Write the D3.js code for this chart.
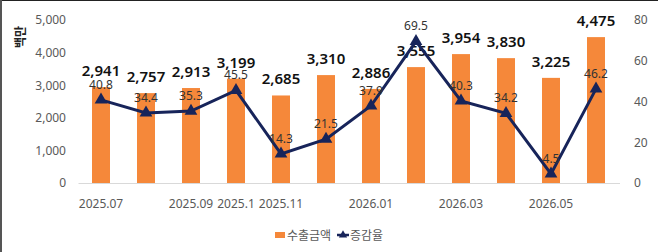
<!DOCTYPE html>
<html>
<head>
<meta charset="utf-8">
<script src="https://cdn.jsdelivr.net/npm/d3@7"></script>
<style>
  body { margin: 0; background: #fff; }
  text { font-family: "Noto Sans", "Noto Sans CJK KR", sans-serif; }
</style>
</head>
<body>
<script>
// chart data
var months = ['2025.07', '2025.08', '2025.09', '2025.10', '2025.11', '2025.12',
	'2026.01', '2026.02', '2026.03', '2026.04', '2026.05', '2026.06'];
var tickLabels = ['2025.07', '', '2025.09', '2025.1', '2025.11', '',
	'2026.01', '', '2026.03', '', '2026.05', ''];
var exports = [2941, 2757, 2913, 3199, 2685, 3310, 2886, 3555, 3954, 3830, 3225, 4475];
var rates = [40.8, 34.4, 35.3, 45.5, 14.3, 21.5, 37.9, 69.5, 40.3, 34.2, 4.5, 46.2];
var leftTicks = [0, 1000, 2000, 3000, 4000, 5000];
var rightTicks = [0, 20, 40, 60, 80];

var width = 658,
	height = 252;

var orange = '#f5883a',
	navy = '#17245a';

var svg = d3.select('body')
	.append('svg')
	.attr('width', width)
	.attr('height', height);

// frame edges
svg.append('rect').attr('x', 0).attr('y', 0).attr('width', width).attr('height', 1).attr('fill', '#222');
svg.append('rect').attr('x', 0).attr('y', 0).attr('width', 2).attr('height', height).attr('fill', '#555');

var x = d3.scaleBand()
	.domain(months)
	.range([78.5, 618.5])
	.paddingInner(0.6)
	.paddingOuter(0.3);

var y = d3.scaleLinear().domain([0, 5000]).range([183, 20]);
var y2 = d3.scaleLinear().domain([0, 80]).range([183, 20]);

// left axis
var yAxis = svg.append('g')
	.attr('transform', 'translate(70,0)')
	.call(d3.axisLeft(y).tickValues(leftTicks).tickFormat(d3.format(',')).tickSize(0).tickPadding(4));
yAxis.select('.domain').remove();
yAxis.selectAll('text').attr('fill', '#595959').style('font-size', '12px');

// right axis
var y2Axis = svg.append('g')
	.attr('transform', 'translate(630,0)')
	.call(d3.axisRight(y2).tickValues(rightTicks).tickSize(0).tickPadding(4));
y2Axis.select('.domain').remove();
y2Axis.selectAll('text').attr('fill', '#595959').style('font-size', '12px');

// unit label
svg.append('text')
	.attr('transform', 'translate(25,37) rotate(-90)')
	.attr('text-anchor', 'middle')
	.style('font-family', '"Noto Sans CJK KR"')
	.style('font-size', '12px')
	.style('font-weight', 'bold')
	.attr('fill', '#222')
	.text('백만');

// baseline
svg.append('line')
	.attr('x1', 78.5).attr('x2', 620)
	.attr('y1', 183.5).attr('y2', 183.5)
	.attr('stroke', '#d9d9d9');

// x labels
var xAxis = svg.append('g')
	.attr('transform', 'translate(0,183)')
	.call(d3.axisBottom(x).tickSize(0).tickPadding(16).tickFormat(function(d, i) { return tickLabels[i]; }));
xAxis.select('.domain').remove();
xAxis.selectAll('text').attr('fill', '#595959').style('font-size', '12px');

// bars
svg.selectAll('.bar')
	.data(exports)
	.enter().append('rect')
	.attr('class', 'bar')
	.attr('x', function(d, i) { return x(months[i]); })
	.attr('width', x.bandwidth())
	.attr('y', function(d) { return y(d); })
	.attr('height', function(d) { return y(0) - y(d); })
	.attr('fill', orange);

// bar labels
svg.selectAll('.blabel')
	.data(exports)
	.enter().append('text')
	.attr('class', 'blabel')
	.attr('x', function(d, i) { return x(months[i]) + x.bandwidth() / 2; })
	.attr('y', function(d) { return y(d) - 11; })
	.attr('text-anchor', 'middle')
	.style('font-size', '15px')
	.style('font-weight', '600')
	.attr('fill', '#111')
	.text(d3.format(','));

// rate line
var line = d3.line()
	.x(function(d, i) { return x(months[i]) + x.bandwidth() / 2; })
	.y(function(d) { return y2(d); });

svg.append('path')
	.datum(rates)
	.attr('d', line)
	.attr('fill', 'none')
	.attr('stroke', navy)
	.attr('stroke-width', 3);

var tri = d3.symbol().type(d3.symbolTriangle).size(70);

svg.selectAll('.marker')
	.data(rates)
	.enter().append('path')
	.attr('class', 'marker')
	.attr('d', tri)
	.attr('transform', function(d, i) {
		return 'translate(' + (x(months[i]) + x.bandwidth() / 2) + ',' + y2(d) + ')';
	})
	.attr('fill', navy);

svg.selectAll('.rlabel')
	.data(rates)
	.enter().append('text')
	.attr('class', 'rlabel')
	.attr('x', function(d, i) { return x(months[i]) + x.bandwidth() / 2; })
	.attr('y', function(d) { return y2(d) - 11; })
	.attr('text-anchor', 'middle')
	.style('font-size', '12px')
	.attr('fill', '#333')
	.text(function(d) { return d.toFixed(1); });

// legend
var legend = svg.append('g').attr('transform', 'translate(275,235)');
legend.append('rect').attr('x', 0).attr('y', -3).attr('width', 10).attr('height', 6).attr('fill', orange);
legend.append('text').attr('x', 12).attr('y', 4.5)
	.style('font-family', '"Noto Sans CJK KR"').style('font-size', '12px')
	.attr('fill', '#595959').text('수출금액');
legend.append('line').attr('x1', 62).attr('x2', 74).attr('y1', 0).attr('y2', 0)
	.attr('stroke', navy).attr('stroke-width', 2.5);
legend.append('path').attr('d', d3.symbol().type(d3.symbolTriangle).size(30))
	.attr('transform', 'translate(68,0)').attr('fill', navy);
legend.append('text').attr('x', 75).attr('y', 4.5)
	.style('font-family', '"Noto Sans CJK KR"').style('font-size', '12px')
	.attr('fill', '#595959').text('증감율');
</script>
</body>
</html>
